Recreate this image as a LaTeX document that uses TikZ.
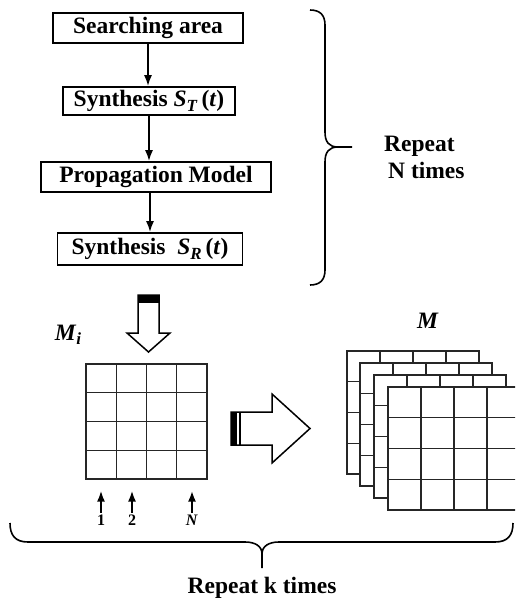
\documentclass[tikz,border=0pt]{standalone}
\usepackage{fontspec}
\setmainfont{Liberation Serif}
\usetikzlibrary{arrows.meta}
\tikzset{>={Latex[length=11pt,width=8pt]}}
\def\linethickness{1.6pt}
\newcommand{\boldit}[1]{\textbf{\textit{#1}}}
\newcommand{\lowsub}[1]{\raisebox{-4.5pt}{\fontsize{17}{19}\selectfont\boldit{#1}}}
\tikzset{
  flowbox/.style={draw, line width=\linethickness, inner sep=0pt, font=\fontsize{23.5}{26}\selectfont\bfseries},
  bigtext/.style={font=\fontsize{23.5}{27}\selectfont\bfseries, inner sep=0pt},
  smalltext/.style={font=\fontsize{16}{18}\selectfont\bfseries, inner sep=0pt},
  cellline/.style={line width=1.2pt, draw=black!85},
  hollow/.style={draw, fill=white, line width=1.5pt, line join=miter},
  bracestyle/.style={line width=1.6pt},
}

\begin{document}
\begin{tikzpicture}[x=1pt, y=-1pt]
    \useasboundingbox (0,0) rectangle (515,600);
    \clip (0,0) rectangle (515,600);
    % flow of one run
    \node[flowbox, minimum width=190pt, minimum height=30pt] (search) at (148,28) {Searching area};
    \node[flowbox, minimum width=172pt, minimum height=28pt] (synT) at (149,101) {Synthesis \boldit{S}\lowsub{T}\,(\boldit{t})};
    \node[flowbox, minimum width=230pt, minimum height=30pt] (prop) at (156,177) {Propagation Model};
    \node[flowbox, minimum width=185pt, minimum height=32pt] (synR) at (150,249) {Synthesis\ \ \boldit{S}\lowsub{R}\,(\boldit{t})};
    \draw[->, line width=1.8pt] (search.south) -- (search.south |- synT.north);
    \draw[->, line width=1.8pt] (synT.south) -- (synT.south |- prop.north);
    \draw[->, line width=1.8pt] (prop.south -| synR.north) -- (synR.north);
    % repeat N times
    \coordinate (ntop) at (310,10);
    \coordinate (nbot) at (310,285);
    \coordinate (ntip) at (352,147);
    \draw[bracestyle] (ntop) .. controls (320,10) and (325,15) .. (325,25) -- (325,132)
        .. controls (325,142) and (329,147) .. (338,147) -- (ntip);
    \draw[bracestyle] (nbot) .. controls (320,285) and (325,280) .. (325,270) -- (325,162)
        .. controls (325,152) and (329,147) .. (338,147);
    \node[bigtext, anchor=west, align=left] (repN) at (384,157) {Repeat\\\hspace{4pt}N times};
    % hollow arrow down
    \draw[hollow] (138,295) -- (159,295) -- (159,333) -- (170,333) -- (148.5,352) -- (127,333) -- (138,333) -- cycle;
    \fill (138,295) rectangle (159,303);
    % matrix M_i
    \node[bigtext] (Mi) at (68,335) {\boldit{M}\lowsub{i}};
    \node[draw, cellline, minimum width=121pt, minimum height=115pt, inner sep=0pt] (grid) at (146.5,421.5) {};
    \foreach \i in {1,2,3} {
        \draw[cellline] ({86+\i*30.25},364) -- ({86+\i*30.25},479);
        \draw[cellline] (86,{364+\i*28.75}) -- (207,{364+\i*28.75});
    }
    \node[smalltext] (n1) at (101,520) {1};
    \node[smalltext] (n2) at (132,520) {2};
    \node[smalltext] (nN) at (192,520) {\textit{N}};
    \foreach \n in {n1, n2, nN}
        \draw[->, line width=2.4pt] (\n.north) ++(0,-2) -- ++(0,-22);
    % hollow arrow right
    \draw[hollow] (231,412) -- (272,412) -- (272,394) -- (310,428.5) -- (272,463) -- (272,445) -- (231,445) -- cycle;
    \fill (231,412) rectangle (237,445);
    \draw[line width=1.2pt] (240,412) -- (240,445);
    % stack M
    \node[bigtext] (M) at (428,321) {\boldit{M}};
    \foreach \dx/\dy in {347/351, 360/363, 374/375, 388/387} {
        \draw[cellline, fill=white] (\dx,\dy) rectangle ++(132,123);
        \foreach \i in {1,2,3} {
            \draw[cellline] ({\dx+\i*33},\dy) -- ++(0,123);
            \draw[cellline] (\dx,{\dy+\i*30.75}) -- ++(132,0);
        }
    }
    % repeat k times
    \coordinate (kleft) at (10,523);
    \coordinate (kright) at (513,523);
    \coordinate (ktip) at (262,568);
    \draw[bracestyle] (kleft) .. controls (10,535) and (15,542) .. (28,542) -- (245,542)
        .. controls (255,542) and (262,546) .. (262,554) -- (ktip);
    \draw[bracestyle] (kright) .. controls (513,535) and (508,542) .. (495,542) -- (279,542)
        .. controls (269,542) and (262,546) .. (262,554);
    \node[bigtext] (repK) at (262,588) {Repeat k times};
\end{tikzpicture}
\end{document}
